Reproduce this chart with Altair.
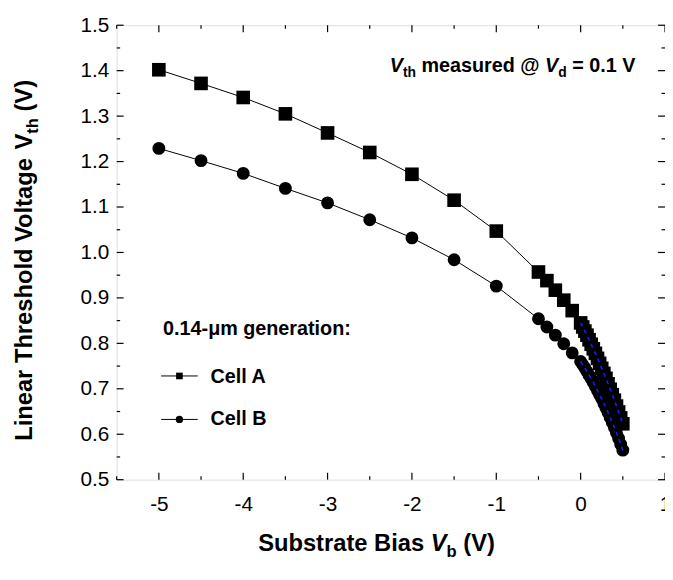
import altair as alt
import pandas as pd

# ---------------- data ----------------
vb_coarse = [-5.0, -4.5, -4.0, -3.5, -3.0, -2.5, -2.0, -1.5, -1.0, -0.5, -0.4, -0.3, -0.2, -0.1]
cellA_coarse = [1.402, 1.372, 1.341, 1.305, 1.263, 1.220, 1.172, 1.115, 1.047, 0.957, 0.938, 0.917, 0.895, 0.872]
cellB_coarse = [1.229, 1.202, 1.174, 1.141, 1.109, 1.072, 1.032, 0.984, 0.926, 0.854, 0.836, 0.818, 0.799, 0.779]

vb_fine = [0.0, 0.025, 0.05, 0.075, 0.1, 0.125, 0.15, 0.175, 0.2, 0.225, 0.25,
           0.275, 0.3, 0.325, 0.35, 0.375, 0.4, 0.425, 0.45, 0.475, 0.5]
cellA_fine = [0.845, 0.836, 0.827, 0.818, 0.808, 0.798, 0.788, 0.778, 0.767, 0.756, 0.745,
              0.734, 0.723, 0.711, 0.699, 0.687, 0.675, 0.662, 0.649, 0.636, 0.623]
cellB_fine = [0.760, 0.753, 0.746, 0.738, 0.730, 0.722, 0.714, 0.705, 0.696, 0.687, 0.678,
              0.668, 0.658, 0.648, 0.637, 0.626, 0.615, 0.603, 0.591, 0.578, 0.565]

x_major = [-5, -4, -3, -2, -1, 0, 1]
x_minor = [-5.5, -4.5, -3.5, -2.5, -1.5, -0.5, 0.5]
y_major = [0.5, 0.6, 0.7, 0.8, 0.9, 1.0, 1.1, 1.2, 1.3, 1.4, 1.5]
y_minor = [0.55, 0.65, 0.75, 0.85, 0.95, 1.05, 1.15, 1.25, 1.35, 1.45]

# ---------------- layout ----------------
W, H = 555, 460
FONT = "Liberation Sans"
XD = [-5.5, 1.0]
YD = [0.5, 1.5]

xs = alt.Scale(domain=XD, nice=False, zero=False)
ys = alt.Scale(domain=YD, nice=False, zero=False)

dfA = pd.DataFrame({"vb": vb_coarse + vb_fine, "vth": cellA_coarse + cellA_fine})
dfB = pd.DataFrame({"vb": vb_coarse + vb_fine, "vth": cellB_coarse + cellB_fine})
dfAf = pd.DataFrame({"vb": vb_fine, "vth": cellA_fine})
dfBf = pd.DataFrame({"vb": vb_fine, "vth": cellB_fine})

X = alt.X("vb:Q", scale=xs, axis=alt.Axis(
    values=x_major, labelExpr="'' + datum.value", ticks=False, domain=False, grid=False,
    title=None, labelFontSize=21, labelFont=FONT, labelColor="black", labelPadding=14,
    labelFlush=False, labelOverlap=False))
Y = alt.Y("vth:Q", scale=ys, axis=alt.Axis(
    values=y_major, format=".1f", ticks=False, domain=False, grid=False,
    title=None, labelFontSize=21, labelFont=FONT, labelColor="black", labelPadding=8,
    labelFlush=False, labelOverlap=False))

def series(df, shape, size):
    line = alt.Chart(df).mark_line(color="black", strokeWidth=1).encode(x=X, y=Y, order="vb:Q")
    pts = alt.Chart(df).mark_point(shape=shape, filled=True, color="black", opacity=1, size=size,
                                   strokeWidth=0).encode(x=alt.X("vb:Q", scale=xs), y=alt.Y("vth:Q", scale=ys))
    return line + pts

def fit(df):
    return alt.Chart(df).mark_line(color="#1a1aff", strokeWidth=1.6, strokeDash=[4, 4]).encode(
        x=alt.X("vb:Q", scale=xs), y=alt.Y("vth:Q", scale=ys), order="vb:Q")

# tick marks (inward)
def xticks(vals, y0, y1):
    return alt.Chart(pd.DataFrame({"t": vals})).mark_rule(color="black", strokeWidth=1.2).encode(
        x=alt.X("t:Q", scale=xs), y=alt.value(y0), y2=alt.value(y1))

def yticks(vals, x0, x1):
    return alt.Chart(pd.DataFrame({"t": vals})).mark_rule(color="black", strokeWidth=1.2).encode(
        y=alt.Y("t:Q", scale=ys), x=alt.value(x0), x2=alt.value(x1))

ticks = (xticks(x_major, H, H - 7) + xticks(x_minor, H, H - 3.5) +
         xticks(x_major, 0, 7) + xticks(x_minor, 0, 3.5) +
         yticks(y_major, 0, 7) + yticks(y_minor, 0, 3.5) +
         yticks(y_major, W, W - 7) + yticks(y_minor, W, W - 3.5))

# ---------------- text helpers ----------------
AW = {" ": 278, "(": 333, ")": 333, ".": 278, "-": 333, "=": 584, "@": 975, ":": 333,
      "A": 722, "B": 722, "C": 722, "L": 611, "S": 667, "T": 611, "V": 667,
      "a": 556, "b": 611, "d": 611, "e": 556, "g": 611, "h": 611, "i": 278, "l": 278,
      "m": 889, "n": 611, "o": 611, "r": 389, "s": 556, "t": 333, "u": 611, "\u03bc": 611}

def tw(s, size):
    return sum(AW.get(c, 556) for c in s) / 1000.0 * size

def txt(s, x, y, size, italic=False, angle=0, align="left"):
    kw = dict(font=FONT, fontSize=size, fontWeight="bold", color="black",
              align=align, baseline="alphabetic")
    if italic:
        kw["fontStyle"] = "italic"
    if angle:
        kw["angle"] = angle
    return alt.Chart(pd.DataFrame({"t": [s]})).mark_text(**kw).encode(
        x=alt.value(x), y=alt.value(y), text="t:N")

def split_sp(s):
    core = s.strip(" ")
    lead = len(s) - len(s.lstrip(" "))
    trail = len(s) - len(s.rstrip(" "))
    return lead, core, trail

def rich_h(pieces, x_start, y_base, size, sub=0.7, drop=0.28):
    layers = []
    x = x_start
    for s, it, is_sub in pieces:
        fs = size * sub if is_sub else size
        yy = y_base + (size * drop if is_sub else 0)
        lead, core, trail = split_sp(s)
        x += tw(" " * lead, fs)
        layers.append(txt(core, x, yy, fs, italic=it))
        x += tw(core, fs) + tw(" " * trail, fs)
    return layers

def rich_width(pieces, size, sub=0.7):
    return sum(tw(s, size * sub if b else size) for s, it, b in pieces)

def rich_v(pieces, x_base, y_start, size, sub=0.7, drop=0.28):
    layers = []
    y = y_start
    for s, it, is_sub in pieces:
        fs = size * sub if is_sub else size
        xx = x_base + (size * drop if is_sub else 0)
        lead, core, trail = split_sp(s)
        y -= tw(" " * lead, fs)
        layers.append(txt(core, xx, y, fs, italic=it, angle=270))
        y -= tw(core, fs) + tw(" " * trail, fs)
    return layers

# annotation at upper right
ann = [("V", True, False), ("th", False, True), (" measured @ ", False, False),
       ("V", True, False), ("d", False, True), (" = 0.1 V", False, False)]
AF = 20
ann_layers = rich_h(ann, 525 - rich_width(ann, AF), 47, AF)

# x title
xt = [("Substrate Bias ", False, False), ("V", True, False), ("b", False, True), (" (V)", False, False)]
XF = 24
xt_layers = rich_h(xt, 263 - rich_width(xt, XF) / 2, 532, XF)

# y title (rotated)
yt = [("Linear Threshold Voltage ", False, False), ("V", False, False), ("th", False, True),
      (" (V)", False, False)]
YF = 24
yt_layers = rich_v(yt, -86, 238 + rich_width(yt, YF) / 2, YF)

# legend
LF = 20
leg = [txt("0.14-\u03bcm generation:", 47, 314, LF),
       txt("Cell A", 95, 362, LF), txt("Cell B", 95, 405, LF)]
leg_lineA = alt.Chart(pd.DataFrame({"k": [1]})).mark_rule(color="black", strokeWidth=1).encode(
    x=alt.value(45), x2=alt.value(82), y=alt.value(355))
leg_lineB = alt.Chart(pd.DataFrame({"k": [1]})).mark_rule(color="black", strokeWidth=1).encode(
    x=alt.value(45), x2=alt.value(82), y=alt.value(399))
legA = alt.Chart(pd.DataFrame({"k": [1]})).mark_point(shape="square", filled=True, color="black",
                                                      opacity=1, size=45, strokeWidth=0).encode(
    x=alt.value(63.5), y=alt.value(355))
legB = alt.Chart(pd.DataFrame({"k": [1]})).mark_point(shape="circle", filled=True, color="black",
                                                      opacity=1, size=55, strokeWidth=0).encode(
    x=alt.value(63.5), y=alt.value(399))

chart = alt.layer(
    series(dfA, "square", 190), series(dfB, "circle", 170), fit(dfAf), fit(dfBf),
    ticks, leg_lineA, leg_lineB, legA, legB, *leg, *ann_layers, *xt_layers, *yt_layers
).properties(
    width=W, height=H,
    autosize=alt.AutoSizeParams(type="none"),
    padding={"left": 110, "top": 14, "right": 0, "bottom": 90},
).configure_view(stroke="black", strokeWidth=1.5).configure(background="white")

chart.save("out.html", embed_options={"renderer": "svg", "actions": False})
